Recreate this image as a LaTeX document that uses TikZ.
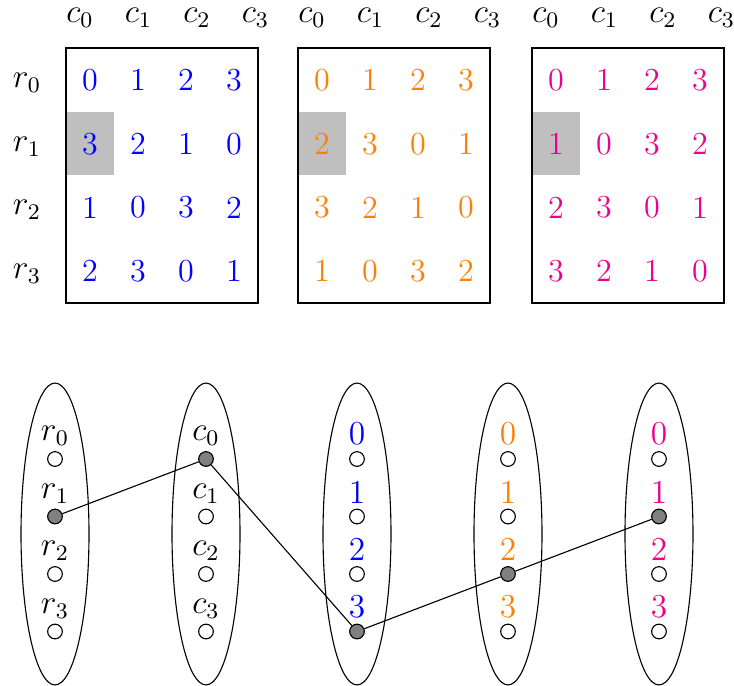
\documentclass[tikz,border=0pt]{standalone}
\usetikzlibrary{shapes.geometric}
\definecolor{cB}{RGB}{0,0,255}
\definecolor{cO}{RGB}{255,128,0}
\definecolor{cM}{RGB}{236,0,140}
\tikzset{
  gridbox/.style={draw, line width=0.4pt},
  hicell/.style={fill=black!25},
  cellnum/.style={font=\fontsize{11.5}{13}\selectfont, inner sep=0pt},
  hdr/.style={font=\fontsize{12}{14}\selectfont, inner sep=0pt},
  grp/.style={draw, ellipse, line width=0.4pt, minimum width=0.857cm, minimum height=3.805cm, inner sep=0pt},
  vtx/.style={circle, draw, line width=0.4pt, minimum size=0.185cm, inner sep=0pt, fill=white},
  sel/.style={vtx, fill=gray},
  lbl/.style={inner sep=0pt, label distance=1.8pt, font=\fontsize{12}{14}\selectfont},
  edge/.style={line width=0.4pt}
}
\begin{document}
\begin{tikzpicture}[x=0.0126cm, y=-0.0126cm]
\useasboundingbox (0,0) rectangle (734,686);
% ---------- top grids ----------
\fill[hicell] (66,112) rectangle (114,175);
\fill[hicell] (298,112) rectangle (346,175);
\fill[hicell] (532,112) rectangle (580,175);
\draw[gridbox] (66,48) rectangle (258,303);
\draw[gridbox] (298,48) rectangle (490,303);
\draw[gridbox] (532,48) rectangle (724,303);
% column headers
\foreach \ox/\bn in {0/A,232/B,466/C}
  \foreach \j in {0,1,2,3}
    \node[hdr] (h\bn\j) at ({80+58.5*\j+\ox},18) {$c_{\j}$};
% row headers
\foreach \i/\yy in {0/80,1/144,2/207,3/271}
  \node[hdr] (rh\i) at (27,\yy+3) {$r_{\i}$};
% block A (blue)
\foreach [count=\i from 0] \row in {{0,1,2,3},{3,2,1,0},{1,0,3,2},{2,3,0,1}}
  \foreach [count=\j from 0] \v in \row
    \node[cellnum, text=cB] (a\i\j) at ({90+48*\j},{80+63.75*\i}) {\v};
% block B (orange)
\foreach [count=\i from 0] \row in {{0,1,2,3},{2,3,0,1},{3,2,1,0},{1,0,3,2}}
  \foreach [count=\j from 0] \v in \row
    \node[cellnum, text=cO] (b\i\j) at ({322+48*\j},{80+63.75*\i}) {\v};
% block C (magenta)
\foreach [count=\i from 0] \row in {{0,1,2,3},{1,0,3,2},{2,3,0,1},{3,2,1,0}}
  \foreach [count=\j from 0] \v in \row
    \node[cellnum, text=cM] (m\i\j) at ({556+48*\j},{80+63.75*\i}) {\v};
% ---------- bottom graph ----------
\node[grp] (E1) at (55,534) {};
\node[grp] (E2) at (206,534) {};
\node[grp] (E3) at (357,534) {};
\node[grp] (E4) at (508,534) {};
\node[grp] (E5) at (659,534) {};
% rows
\node[vtx, label={[lbl]above:$r_0$}] (R0) at (55,459) {};
\node[sel, label={[lbl]above:$r_1$}] (R1) at (55,516.5) {};
\node[vtx, label={[lbl]above:$r_2$}] (R2) at (55,574) {};
\node[vtx, label={[lbl]above:$r_3$}] (R3) at (55,631.5) {};
% columns
\node[sel, label={[lbl]above:$c_0$}] (C0) at (206,459) {};
\node[vtx, label={[lbl]above:$c_1$}] (C1) at (206,516.5) {};
\node[vtx, label={[lbl]above:$c_2$}] (C2) at (206,574) {};
\node[vtx, label={[lbl]above:$c_3$}] (C3) at (206,631.5) {};
% blue values
\node[vtx, label={[lbl, text=cB]above:0}] (X0) at (357,459) {};
\node[vtx, label={[lbl, text=cB]above:1}] (X1) at (357,516.5) {};
\node[vtx, label={[lbl, text=cB]above:2}] (X2) at (357,574) {};
\node[sel, label={[lbl, text=cB]above:3}] (X3) at (357,631.5) {};
% orange values
\node[vtx, label={[lbl, text=cO]above:0}] (Y0) at (508,459) {};
\node[vtx, label={[lbl, text=cO]above:1}] (Y1) at (508,516.5) {};
\node[sel, label={[lbl, text=cO]above:2}] (Y2) at (508,574) {};
\node[vtx, label={[lbl, text=cO]above:3}] (Y3) at (508,631.5) {};
% magenta values
\node[vtx, label={[lbl, text=cM]above:0}] (Z0) at (659,459) {};
\node[sel, label={[lbl, text=cM]above:1}] (Z1) at (659,516.5) {};
\node[vtx, label={[lbl, text=cM]above:2}] (Z2) at (659,574) {};
\node[vtx, label={[lbl, text=cM]above:3}] (Z3) at (659,631.5) {};
% path
\draw[edge] (R1) -- (C0) -- (X3) -- (Y2) -- (Z1);
\end{tikzpicture}
\end{document}
